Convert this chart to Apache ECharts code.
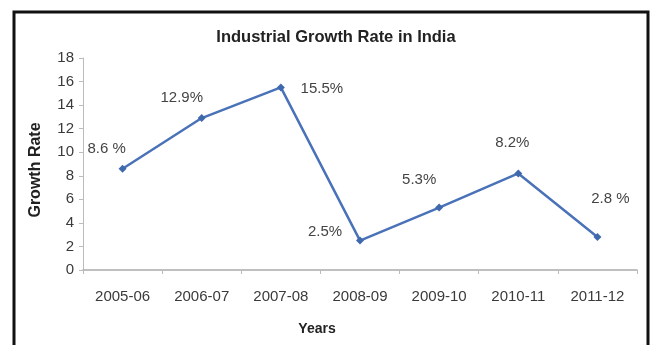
<!DOCTYPE html>
<html><head><meta charset="utf-8">
<script src="https://cdn.jsdelivr.net/npm/echarts@6/dist/echarts.min.js"></script>
<style>html,body{margin:0;padding:0;background:#fff}#c{width:653px;height:345px}</style>
</head><body><div id="c"></div>
<script>
const categories = ['2005-06','2006-07','2007-08','2008-09','2009-10','2010-11','2011-12'];
const growthRate = [8.6, 12.9, 15.5, 2.5, 5.3, 8.2, 2.8];
const labelTexts = ['8.6 %','12.9%','15.5%','2.5%','5.3%','8.2%','2.8 %'];
const labelOffsets = [[-16,-20],[-20,-20],[41,1],[-35,-9],[-20,-28],[-6,-31],[13,-38]];
const yTicks = [0,2,4,6,8,10,12,14,16,18];

const chart = echarts.init(document.getElementById('c'));
chart.setOption({
  animation:false,
  backgroundColor:'#fff',
  graphic:[{type:'rect',shape:{x:14,y:12,width:634,height:360},style:{fill:'none',stroke:'#111',lineWidth:3}}],
  title:{text:'Industrial Growth Rate in India',left:331,top:24,textAlign:'center',
    textStyle:{fontFamily:'Liberation Sans',fontSize:16.5,fontWeight:'bold',color:'#222'}},
  grid:{left:83,right:16,top:58,bottom:75},
  xAxis:{type:'category',data:categories,boundaryGap:true,
    name:'Years',nameLocation:'middle',nameGap:52,
    nameTextStyle:{fontFamily:'Liberation Sans',fontSize:14,fontWeight:'bold',color:'#222',padding:[0,86,0,0]},
    axisLine:{lineStyle:{color:'#aaa',width:1.5}},
    axisTick:{show:true,length:4,lineStyle:{color:'#bbb'}},
    axisLabel:{fontFamily:'Liberation Sans',fontSize:15,color:'#3a3a3a',margin:19}},
  yAxis:{type:'value',min:yTicks[0],max:yTicks[yTicks.length-1],interval:2,
    name:'Growth Rate',nameLocation:'middle',nameGap:39,
    nameTextStyle:{fontFamily:'Liberation Sans',fontSize:16,fontWeight:'bold',color:'#222',padding:[0,12,0,0]},
    axisLine:{show:true,lineStyle:{color:'#bbb'}},
    axisTick:{show:true,length:4,lineStyle:{color:'#bbb'}},
    splitLine:{show:false},
    axisLabel:{fontFamily:'Liberation Sans',fontSize:15,color:'#3a3a3a',margin:9}},
  series:[{type:'line',
    data:growthRate.map((v,i)=>({value:v,label:{formatter:labelTexts[i],offset:labelOffsets[i]}})),
    symbol:'diamond',symbolSize:8,
    lineStyle:{color:'#4a72b8',width:2.5},
    itemStyle:{color:'#3f68ad'},
    label:{show:true,position:'inside',align:'center',verticalAlign:'middle',
      fontFamily:'Liberation Sans',fontSize:15,color:'#444'}
  }]
});
</script></body></html>
